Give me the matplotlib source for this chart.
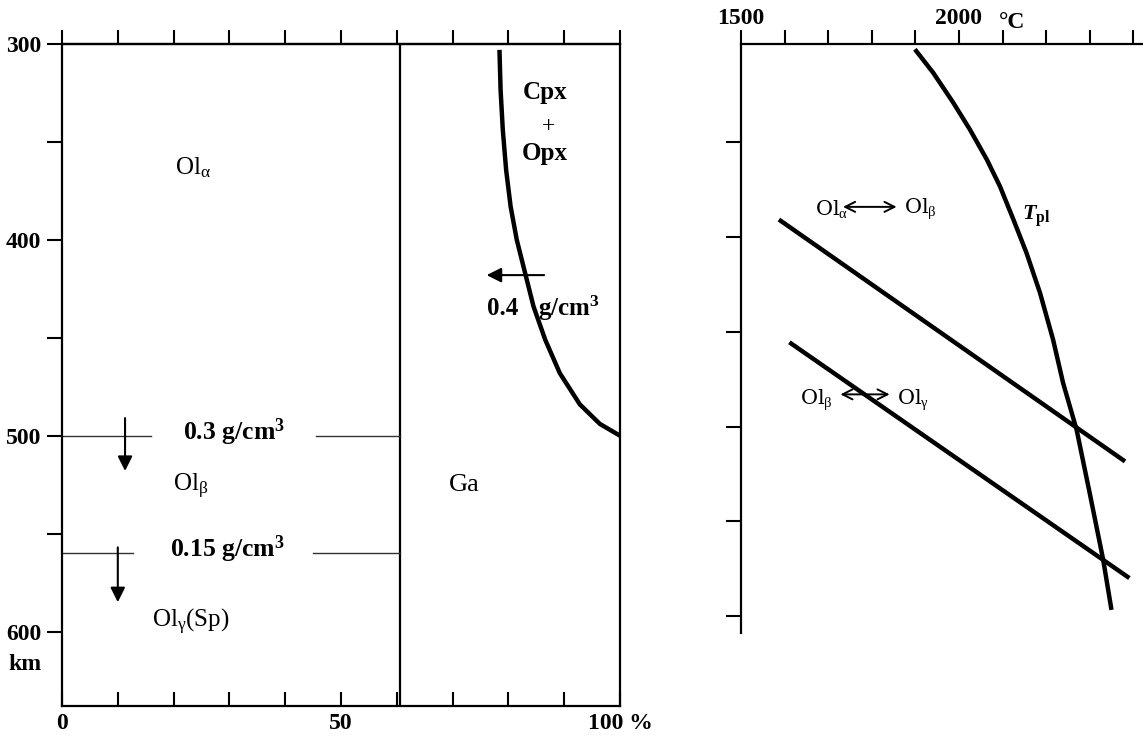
import numpy as np
import matplotlib
matplotlib.use('Agg')
import matplotlib.pyplot as plt

plt.rcParams['font.family'] = ['Liberation Serif', 'DejaVu Serif']
plt.rcParams['mathtext.fontset'] = 'custom'
plt.rcParams['mathtext.rm'] = 'Liberation Serif'
plt.rcParams['mathtext.bf'] = 'Liberation Serif:bold'
plt.rcParams['mathtext.it'] = 'Liberation Serif:italic:bold'

# left panel: composition vs depth
pct_ticks = np.arange(0, 101, 10)
pct_labels = ['0', '', '', '', '', '50', '', '', '', '', '100 %']
depth_major = [300, 400, 500, 600]
depth_minor = [350, 450, 550]
ga_boundary = 60.5

px_x = [78.4, 78.6, 79.0, 79.6, 80.4, 81.5, 83.0, 84.5, 86.6, 89.2, 92.8, 96.4, 100]
px_depth = [303, 323.5, 344, 364.5, 383, 400, 417, 434, 451, 468, 484, 494, 500]

dens_depth = [500, 560]
dens_left_end = [16, 12.8]
dens_right_start = [45.6, 45]
dens_text = [r'0.3 g/cm$^{\mathbf{3}}$', r'0.15 g/cm$^{\mathbf{3}}$']
dens_text_x = [30.8, 29.6]
arrow_x = [11.3, 10]
arrow_top = [491, 557]
arrow_tip = [518, 585]

# right panel: temperature vs depth
temp_ticks = np.arange(1500, 2401, 100)
temp_labels = ['1500', '', '', '', '', '2000', '', '', '', '']
right_depth_ticks = [350, 400, 450, 500, 550, 600]

tpl_T = [1899, 1941, 1987, 2025, 2064, 2094, 2125, 2155, 2186, 2216, 2239, 2270, 2300, 2331, 2350]
tpl_depth = [300.8, 313.2, 329, 343.1, 359, 373.1, 390.7, 408.3, 429.4, 454.1, 477, 501.7, 535.1, 570.4, 596.8]
ab_T = [1587, 2381]
ab_depth = [390.7, 518.4]
bg_T = [1611, 2391]
bg_depth = [455.5, 580]

fig = plt.figure(figsize=(11.43, 7.36), dpi=100)

ax1 = fig.add_axes([62 / 1143, 30 / 736, 558 / 1143, 662 / 736])
ax1.set_xlim(0, 100)
ax1.set_ylim(638, 300)
for s in ax1.spines.values():
    s.set_linewidth(1.6)

ax1.set_xticks(pct_ticks)
ax1.set_xticklabels(pct_labels, fontweight='bold')
ax1.tick_params(axis='x', direction='in', length=10, width=1.5, pad=5, labelsize=17)
top = ax1.secondary_xaxis('top')
top.set_xticks(pct_ticks)
top.set_xticklabels([])
top.tick_params(direction='out', length=10, width=1.5)
top.spines['top'].set_linewidth(1.6)

ax1.set_yticks(depth_major)
ax1.set_yticklabels([str(d) for d in depth_major], fontweight='bold')
ax1.set_yticks(depth_minor, minor=True)
ax1.tick_params(axis='y', which='both', direction='out', length=11, width=1.5, pad=4, labelsize=17)
ax1.text(-3.6, 617, 'km', ha='right', va='center', fontsize=17, fontweight='bold', clip_on=False)

ax1.axvline(ga_boundary, color='k', lw=1.6)
ax1.plot(px_x, px_depth, color='k', lw=3.2, solid_capstyle='butt', solid_joinstyle='round')

for d, x0, x1, txt, tx, ax_, at, ah in zip(dens_depth, dens_left_end, dens_right_start,
                                          dens_text, dens_text_x, arrow_x, arrow_top, arrow_tip):
    ax1.plot([0, x0], [d, d], color='#333333', lw=1.0)
    ax1.plot([x1, ga_boundary], [d, d], color='#333333', lw=1.0)
    ax1.text(tx, d - 2, txt, ha='center', va='center', fontsize=18.5, fontweight='bold')
    ax1.annotate('', xy=(ax_, ah), xytext=(ax_, at),
                 arrowprops=dict(arrowstyle='-|>', color='k', lw=1.5, mutation_scale=22,
                                 shrinkA=0, shrinkB=0))

ax1.annotate('', xy=(76.1, 418), xytext=(86.4, 418),
             arrowprops=dict(arrowstyle='-|>', color='k', lw=1.5, mutation_scale=22,
                             shrinkA=0, shrinkB=0))
ax1.text(79.0, 435, '0.4', ha='center', va='center', fontsize=18, fontweight='bold')
ax1.text(85.3, 435, r'g/cm$^{\mathbf{3}}$', ha='left', va='center', fontsize=18, fontweight='bold')

ax1.text(86.6, 325, 'Cpx', ha='center', va='center', fontsize=18, fontweight='bold')
ax1.text(87.2, 342, '+', ha='center', va='center', fontsize=17)
ax1.text(86.6, 356, 'Opx', ha='center', va='center', fontsize=18, fontweight='bold')
ax1.text(72, 525, 'Ga', ha='center', va='center', fontsize=19)
ax1.text(23.5, 363, r'Ol$_{\mathrm{α}}$', ha='center', va='center', fontsize=18)
ax1.text(23, 526, r'Ol$_{\mathrm{β}}$', ha='center', va='center', fontsize=18)
ax1.text(23, 595, r'Ol$_{\mathrm{γ}}$(Sp)', ha='center', va='center', fontsize=18)

ax2 = fig.add_axes([741 / 1143, 103 / 736, 401 / 1143, 589 / 736])
ax2.set_xlim(1500, 2420)
ax2.set_ylim(609, 298)
ax2.spines['right'].set_visible(False)
ax2.spines['bottom'].set_visible(False)
ax2.spines['top'].set_linewidth(1.6)
ax2.spines['left'].set_linewidth(1.6)
ax2.xaxis.tick_top()
ax2.set_xticks(temp_ticks)
ax2.set_xticklabels(temp_labels, fontweight='bold')
ax2.tick_params(axis='x', direction='out', length=10, width=1.5, pad=1, labelsize=17)
ax2.set_yticks(right_depth_ticks)
ax2.set_yticklabels([])
ax2.tick_params(axis='y', direction='out', length=11, width=1.5)
ax2.text(0.676, 1.037, '°C', transform=ax2.transAxes, ha='center', va='center',
         fontsize=17, fontweight='bold')

ax2.plot(tpl_T, tpl_depth, color='k', lw=3.2, solid_capstyle='butt', solid_joinstyle='round')
ax2.plot(ab_T, ab_depth, color='k', lw=3.2, solid_capstyle='butt')
ax2.plot(bg_T, bg_depth, color='k', lw=3.2, solid_capstyle='butt')

ax2.text(1670, 385, r'Ol$_{\mathrm{α}}$', ha='left', va='center', fontsize=15, family='DejaVu Serif')
ax2.annotate('', xy=(1857, 384), xytext=(1734, 384),
             arrowprops=dict(arrowstyle='<->', color='k', lw=1.4, mutation_scale=18,
                             shrinkA=0, shrinkB=0))
ax2.text(1874, 385, r'Ol$_{\mathrm{β}}$', ha='left', va='center', fontsize=15, family='DejaVu Serif')
ax2.text(2144, 389, r'$T_{\mathbf{pl}}$', ha='left', va='center', fontsize=16)

ax2.text(1635, 486, r'Ol$_{\mathrm{β}}$', ha='left', va='center', fontsize=15, family='DejaVu Serif')
ax2.annotate('', xy=(1841, 483), xytext=(1728, 483),
             arrowprops=dict(arrowstyle='<->', color='k', lw=1.4, mutation_scale=18,
                             shrinkA=0, shrinkB=0))
ax2.text(1858, 486, r'Ol$_{\mathrm{γ}}$', ha='left', va='center', fontsize=15, family='DejaVu Serif')

fig.savefig('out.png', dpi=100, facecolor='white')
